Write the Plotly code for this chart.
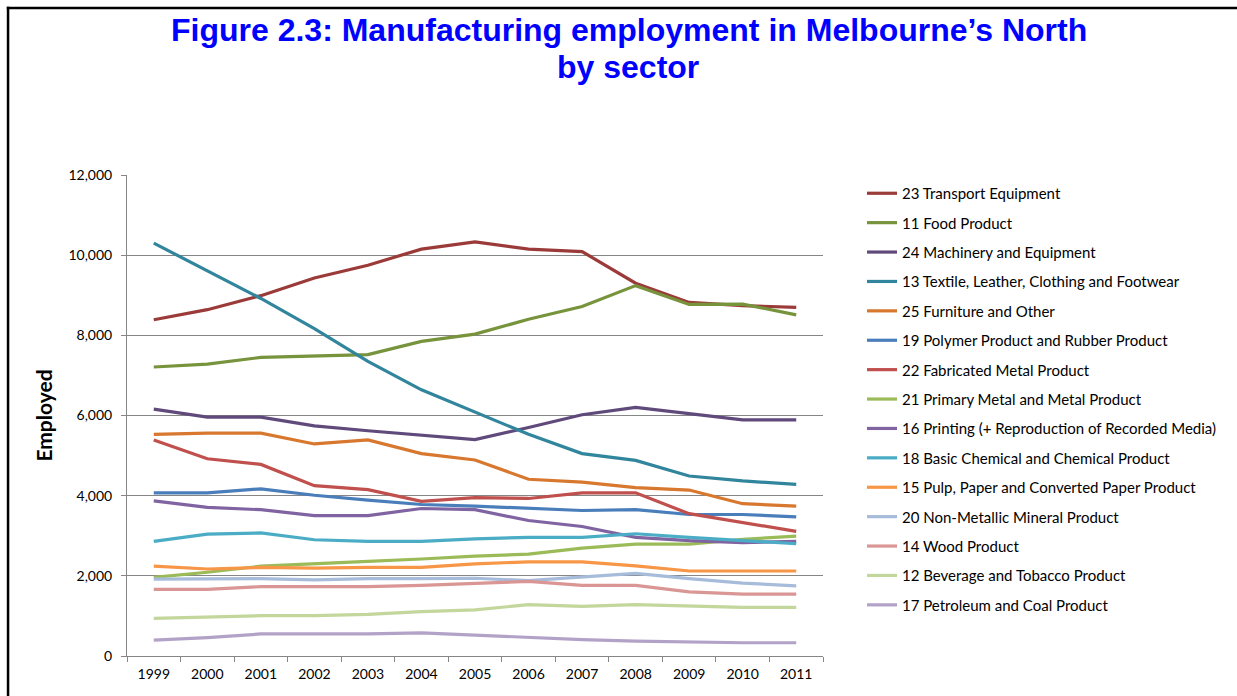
import plotly.graph_objects as go

years = ["1999", "2000", "2001", "2002", "2003", "2004", "2005",
         "2006", "2007", "2008", "2009", "2010", "2011"]

sectors = [
    "23 Transport Equipment",
    "11 Food Product",
    "24 Machinery and Equipment",
    "13 Textile, Leather, Clothing and Footwear",
    "25 Furniture and Other",
    "19 Polymer Product and Rubber Product",
    "22 Fabricated Metal Product",
    "21 Primary Metal and Metal Product",
    "16 Printing (+ Reproduction of Recorded Media)",
    "18 Basic Chemical and Chemical Product",
    "15 Pulp, Paper and Converted Paper Product",
    "20 Non-Metallic Mineral Product",
    "14 Wood Product",
    "12 Beverage and Tobacco Product",
    "17 Petroleum and Coal Product",
]

transport = [8390, 8640, 8990, 9430, 9750, 10150, 10330, 10150, 10090, 9300, 8820, 8740, 8700]
food = [7210, 7280, 7450, 7480, 7520, 7850, 8030, 8400, 8720, 9240, 8770, 8780, 8510]
machinery = [6160, 5960, 5960, 5740, 5620, 5500, 5400, 5700, 6020, 6200, 6050, 5890, 5890]
textile = [10300, 9620, 8920, 8170, 7350, 6640, 6080, 5530, 5050, 4880, 4490, 4370, 4280]
furniture = [5530, 5560, 5560, 5290, 5390, 5050, 4890, 4410, 4340, 4200, 4140, 3800, 3740]
polymer = [4070, 4070, 4170, 4010, 3890, 3780, 3740, 3690, 3630, 3650, 3530, 3530, 3470]
fabricated = [5390, 4920, 4780, 4250, 4150, 3860, 3950, 3930, 4070, 4070, 3550, 3320, 3110]
primary_metal = [1960, 2090, 2240, 2310, 2360, 2420, 2490, 2540, 2690, 2790, 2790, 2910, 2990]
printing = [3870, 3710, 3650, 3500, 3500, 3680, 3650, 3380, 3230, 2960, 2880, 2830, 2860]
chemical = [2860, 3040, 3070, 2900, 2860, 2860, 2920, 2960, 2960, 3050, 2960, 2880, 2800]
pulp = [2240, 2170, 2210, 2190, 2210, 2210, 2300, 2350, 2350, 2250, 2120, 2120, 2120]
non_metallic = [1920, 1930, 1930, 1900, 1930, 1930, 1940, 1880, 1970, 2060, 1930, 1820, 1750]
wood = [1660, 1660, 1730, 1730, 1730, 1760, 1820, 1860, 1760, 1760, 1600, 1545, 1545]
beverage = [940, 975, 1005, 1005, 1040, 1105, 1150, 1280, 1240, 1280, 1250, 1215, 1215]
petroleum = [395, 460, 550, 550, 550, 575, 520, 460, 410, 370, 345, 330, 330]

series = [transport, food, machinery, textile, furniture, polymer, fabricated,
          primary_metal, printing, chemical, pulp, non_metallic, wood, beverage, petroleum]

colors = ["#9B3B39", "#77933C", "#604A7B", "#31859C", "#D8772E", "#4A7EBB",
          "#C0504D", "#9BBB59", "#8064A2", "#4BACC6", "#F79646", "#A7BCDB",
          "#D99694", "#C3D69B", "#B3A2C7"]

y_ticks = [0, 2000, 4000, 6000, 8000, 10000, 12000]

fig = go.Figure()
for i, (name, vals, col) in enumerate(zip(sectors, series, colors)):
    fig.add_trace(go.Scatter(
        x=years, y=vals, name=name, mode="lines",
        line=dict(color=col, width=3.2),
        legendgroup="g%d" % i,
    ))

L, R, T, B = 127, 414, 175, 40
PW, PH = 1237 - L - R, 696 - T - B

def px_x(p):
    return (p - L) / PW

def px_y(p):
    return (696 - B - p) / PH

fig.update_layout(
    width=1237, height=696,
    margin=dict(l=L, r=R, t=T, b=B),
    paper_bgcolor="white", plot_bgcolor="white",
    font=dict(family="Lato", size=14, color="black"),
    showlegend=True,
    legend=dict(
        x=px_x(862), y=px_y(177), xanchor="left", yanchor="top",
        font=dict(family="Lato", size=15, color="black"),
        tracegroupgap=6.9, traceorder="grouped",
        bgcolor="rgba(0,0,0,0)", borderwidth=0,
    ),
    xaxis=dict(
        type="category", range=[-0.5, 12.5],
        showline=True, linecolor="#868686", linewidth=1,
        ticks="outside", tickson="boundaries", ticklen=5, tickcolor="#868686",
        showgrid=False, zeroline=False, ticklabelstandoff=5,
        tickfont=dict(family="Lato", size=14, color="black"),
    ),
    yaxis=dict(
        range=[0, 12000], tickvals=y_ticks, tickformat=",d",
        showline=True, linecolor="#868686", linewidth=1,
        ticks="outside", ticklen=5, tickcolor="#868686",
        showgrid=True, gridcolor="#868686", gridwidth=1, zeroline=False,
        ticklabelstandoff=6,
        tickfont=dict(family="Lato", size=14, color="black"),
        title=dict(text="<b>Employed</b>", font=dict(family="Lato", size=21, color="black"),
                   standoff=10),
    ),
    annotations=[
        dict(text="<b>Figure 2.3: Manufacturing employment in Melbourne\u2019s North</b>",
             xref="paper", yref="paper", x=px_x(629), y=px_y(30),
             xanchor="center", yanchor="middle", showarrow=False,
             font=dict(family="Liberation Sans", size=32, color="#0000FF")),
        dict(text="<b>by sector</b>",
             xref="paper", yref="paper", x=px_x(628), y=px_y(67),
             xanchor="center", yanchor="middle", showarrow=False,
             font=dict(family="Liberation Sans", size=32, color="#0000FF")),
    ],
    shapes=[
        dict(type="rect", xref="paper", yref="paper",
             x0=px_x(6.8), x1=px_x(1237), y0=px_y(6.8), y1=px_y(9.3),
             line=dict(width=0), fillcolor="black", layer="above"),
        dict(type="rect", xref="paper", yref="paper",
             x0=px_x(6.8), x1=px_x(9.3), y0=px_y(6.8), y1=px_y(696),
             line=dict(width=0), fillcolor="black", layer="above"),
    ],
)

fig.write_html("out.html")
